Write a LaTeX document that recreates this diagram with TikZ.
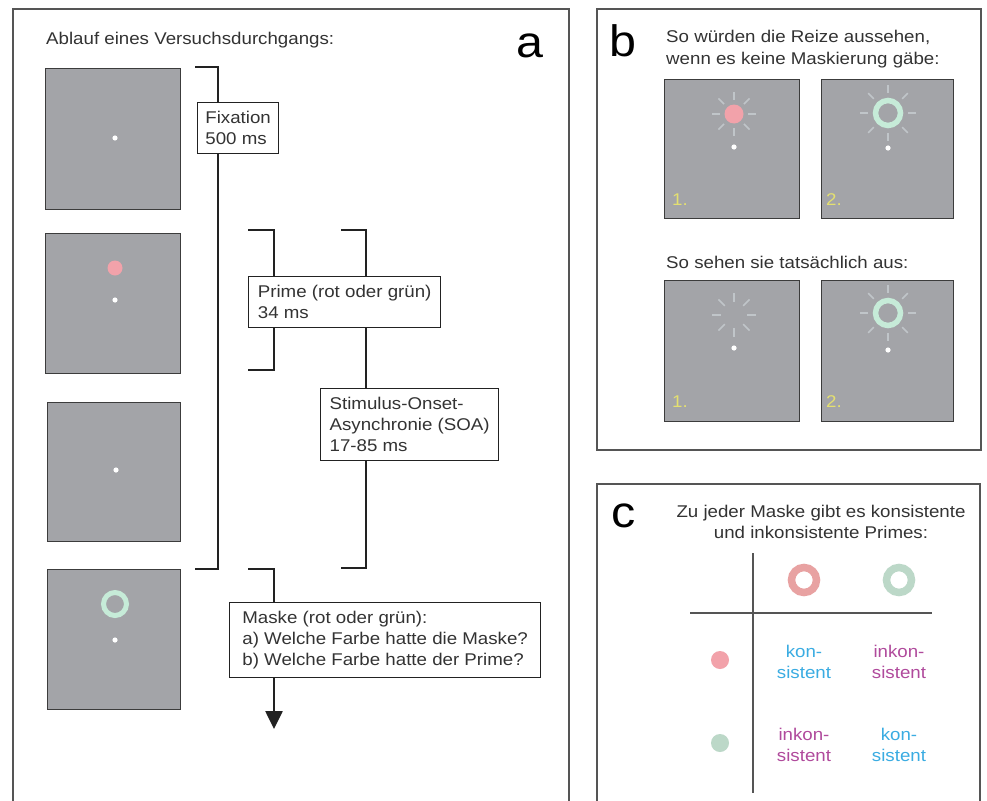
\documentclass[tikz,border=0pt]{standalone}
\usepackage{fontspec}
\setmainfont{Liberation Sans}[FakeStretch=1.1]
\usetikzlibrary{arrows.meta}
\definecolor{scrgray}{HTML}{A3A4A8}
\definecolor{scredge}{HTML}{3C3C3C}
\definecolor{framec}{HTML}{555555}
\definecolor{brk}{HTML}{222222}
\definecolor{primered}{HTML}{F2A2AA}
\definecolor{maskgreen}{HTML}{C6EBD8}
\definecolor{cred}{HTML}{E8A2A2}
\definecolor{cgreen}{HTML}{BCD8C8}
\definecolor{raycol}{HTML}{C8CED2}
\definecolor{numyellow}{HTML}{E4E070}
\definecolor{konblue}{HTML}{3AACE2}
\definecolor{inkmag}{HTML}{B04A9C}
\definecolor{textc}{HTML}{333333}
\newcommand\bxf{\fontsize{17}{21}\selectfont}
\newcommand\bigf{\fontsize{44}{44}\selectfont}
\begin{document}
\begin{tikzpicture}[x=1pt,y=-1pt,
  panel/.style={draw=framec,line width=1.8pt},
  screenbox/.style={draw=scredge,fill=scrgray,line width=1.4pt,anchor=north west,inner sep=0pt},
  bracketline/.style={draw=brk,line width=2.6pt},
  tbox/.style={draw=brk,fill=white,line width=1.3pt,anchor=north west,align=left,font=\bxf,text=textc,inner xsep=5pt,inner ysep=4pt},
  plain/.style={font=\bxf,inner sep=0pt,text=textc},
  fixdot/.style={fill=white,draw=none},
  rayline/.style={draw=raycol,line width=1.6pt,opacity=0.8},
  cellt/.style={font=\bxf,align=center,inner sep=0pt},
  numlab/.style={font=\bxf,text=numyellow,inner sep=0pt,anchor=west}]
\useasboundingbox (0,0) rectangle (987,800);
\fill[white] (0,0) rectangle (987,800);

% ---------------- panel a ----------------
\draw[panel] (13,803) -- (13,9) -- (569,9) -- (569,803);
\node[plain,anchor=west] (titlea) at (46,40) {Ablauf eines Versuchsdurchgangs:};
\node[font=\bigf,inner sep=0pt] (laba) at (530,45.5) {a};

\node[screenbox,minimum width=135pt,minimum height=141pt] (s1) at (45,68) {};
\node[screenbox,minimum width=135pt,minimum height=140pt] (s2) at (45,233) {};
\node[screenbox,minimum width=133pt,minimum height=139pt] (s3) at (47,402) {};
\node[screenbox,minimum width=133pt,minimum height=140pt] (s4) at (47,569) {};

\fill[fixdot] (115,138) circle (2.6);
\fill[primered] (115,268) circle (7.5);
\fill[fixdot] (115,300) circle (2.6);
\fill[fixdot] (116,470) circle (2.6);
\draw[maskgreen,line width=5pt] (115,604) circle (11.5);
\fill[fixdot] (115,640) circle (2.6);

% brackets
\coordinate (fxA) at (195,67);
\coordinate (fxB) at (218,67);
\coordinate (fxC) at (218,569);
\coordinate (fxD) at (195,569);
\draw[bracketline] (fxA) -- (fxB) -- (fxC) -- (fxD);

\coordinate (prA) at (248,230);
\coordinate (prB) at (274,230);
\coordinate (prC) at (274,370);
\coordinate (prD) at (248,370);
\draw[bracketline] (prA) -- (prB) -- (prC) -- (prD);

\coordinate (soA) at (341,230);
\coordinate (soB) at (366,230);
\coordinate (soC) at (366,568);
\coordinate (soD) at (341,568);
\draw[bracketline] (soA) -- (soB) -- (soC) -- (soD);

\coordinate (mkA) at (248,569);
\coordinate (mkB) at (274,569);
\coordinate (mkC) at (274,729);
\draw[bracketline,-{Triangle[width=17pt,length=18pt]}] (mkA) -- (mkB) -- (mkC);

\node[tbox,minimum width=81pt,minimum height=51pt] (fix) at (197,102) {Fixation\\500 ms};
\node[tbox,minimum width=192pt,minimum height=51pt] (prime) at (248,276) {Prime (rot oder grün)\\34 ms};
\node[tbox,minimum width=178pt,minimum height=72pt] (soa) at (320,388) {Stimulus-Onset-\\Asynchronie (SOA)\\17-85 ms};
\node[tbox,minimum width=311pt,minimum height=75pt] (mask) at (229,602) {Maske (rot oder grün):\\a) Welche Farbe hatte die Maske?\\b) Welche Farbe hatte der Prime?};

% ---------------- panel b ----------------
\draw[panel] (597,9) rectangle (981,450);
\node[font=\bigf,inner sep=0pt] (labb) at (623,41) {b};
\node[plain,anchor=west] (btxt1) at (666,37) {So würden die Reize aussehen,};
\node[plain,anchor=west] (btxt2) at (666,60) {wenn es keine Maskierung gäbe:};
\node[plain,anchor=west] (btxt3) at (666,262) {So sehen sie tatsächlich aus:};

\node[screenbox,minimum width=135pt,minimum height=139pt] (b1) at (664,79) {};
\node[screenbox,minimum width=132pt,minimum height=139pt] (b2) at (821,79) {};
\node[screenbox,minimum width=135pt,minimum height=141pt] (b3) at (664,280) {};
\node[screenbox,minimum width=132pt,minimum height=141pt] (b4) at (821,280) {};

% b1: prime with rays
\foreach \ang in {0,45,...,315} \draw[rayline] (734,114) ++(\ang:14) -- ++(\ang:8);
\fill[primered] (734,114) circle (9.5);
\fill[fixdot] (734,147) circle (2.6);
% b2: mask with rays
\foreach \ang in {0,45,...,315} \draw[rayline] (888,113) ++(\ang:20) -- ++(\ang:8);
\draw[maskgreen,line width=5.5pt] (888,113) circle (12.5);
\fill[fixdot] (888,148) circle (2.6);
% b3: rays only
\foreach \ang in {0,45,...,315} \draw[rayline] (734,315) ++(\ang:13) -- ++(\ang:9);
\fill[fixdot] (734,348) circle (2.6);
% b4: mask with rays
\foreach \ang in {0,45,...,315} \draw[rayline] (888,313) ++(\ang:20) -- ++(\ang:8);
\draw[maskgreen,line width=5.5pt] (888,313) circle (12.5);
\fill[fixdot] (888,350) circle (2.6);

\node[numlab] (n1) at (672,200) {1.};
\node[numlab] (n2) at (826,200) {2.};
\node[numlab] (n3) at (672,402) {1.};
\node[numlab] (n4) at (826,402) {2.};

% ---------------- panel c ----------------
\draw[panel] (597,803) -- (597,484) -- (980,484) -- (980,803);
\node[font=\bigf,inner sep=0pt] (labc) at (624,516) {c};
\node[plain,align=center,anchor=center,font=\fontsize{17}{20.5}\selectfont] (ctxt) at (821,522) {Zu jeder Maske gibt es konsistente\\und inkonsistente Primes:};

\coordinate (vt) at (753,553);
\coordinate (vb) at (753,793);
\coordinate (hl) at (690,613);
\coordinate (hr) at (932,613);
\draw[draw=framec,line width=2pt] (vt) -- (vb);
\draw[draw=framec,line width=2pt] (hl) -- (hr);

\draw[cred,line width=7.5pt] (804,580) circle (12.5);
\draw[cgreen,line width=7.5pt] (899,580) circle (12.5);
\fill[primered] (720,660) circle (9);
\fill[cgreen] (720,743) circle (9);

\node[cellt,text=konblue] (c11) at (804,662) {kon-\\sistent};
\node[cellt,text=inkmag] (c12) at (899,662) {inkon-\\sistent};
\node[cellt,text=inkmag] (c21) at (804,745) {inkon-\\sistent};
\node[cellt,text=konblue] (c22) at (899,745) {kon-\\sistent};
\end{tikzpicture}
\end{document}
